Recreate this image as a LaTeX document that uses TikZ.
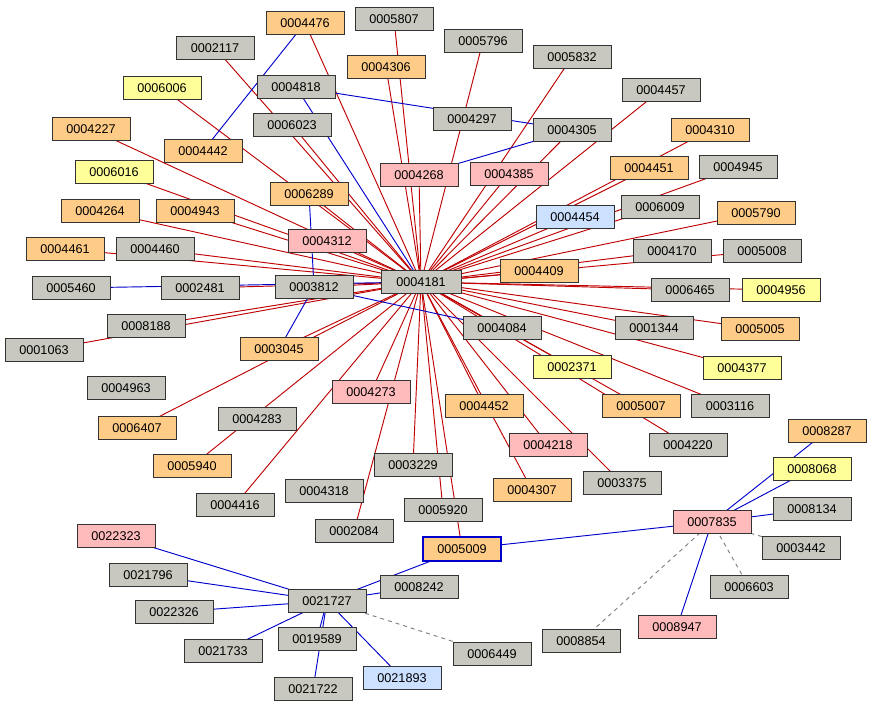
\documentclass[tikz,border=0pt]{standalone}
\usepackage{fontspec}
\setmainfont{Liberation Sans}
\usetikzlibrary{arrows.meta}
\definecolor{cg}{HTML}{C8C8C0}
\definecolor{co}{HTML}{FFCC88}
\definecolor{cp}{HTML}{FFBBBB}
\definecolor{cy}{HTML}{FFFF99}
\definecolor{cb}{HTML}{CCE0FF}
\definecolor{cr}{HTML}{C00000}
\definecolor{cbl}{HTML}{0000CC}
\tikzset{
 nd/.style={draw=black!80,line width=0.7pt,minimum width=58.5pt,minimum height=17.5pt,inner sep=1pt,font=\fontsize{9.5}{11}\selectfont},
 sg/.style={nd,fill=cg}, so/.style={nd,fill=co}, sp/.style={nd,fill=cp}, sy/.style={nd,fill=cy}, sb/.style={nd,fill=cb},
 re/.style={draw=cr,line width=0.7pt,-{Stealth[length=9pt,width=5pt]}},
 be/.style={draw=cbl,line width=0.7pt},
 de/.style={draw=gray,line width=0.7pt,dashed},
}
\begin{document}
\begin{tikzpicture}[x=0.75pt,y=-0.75pt]
\useasboundingbox[fill=white] (0,0) rectangle (873,709);
\def\nodelist{
0004476/so/305/23, 0005807/sg/394/19, 0002117/sg/215/48, 0005796/sg/483/41, 0005832/sg/572/57,
0004306/so/386/67, 0006006/sy/162/88, 0004818/sg/296/87, 0004457/sg/661/90, 0004297/sg/472/119,
0006023/sg/292/125, 0004305/sg/572/130, 0004227/so/91/129, 0004442/so/203/151, 0004310/so/710/130,
0006016/sy/114/172, 0004268/sp/419/175, 0004385/sp/509/174, 0004451/so/649/168, 0004945/sg/738/167,
0006289/so/309/194, 0004264/so/100/211, 0004943/so/195/211, 0006009/sg/660/207, 0005790/so/756/213,
0004454/sb/575/217, 0004312/sp/327/241, 0004461/so/65/249, 0004460/sg/155/249, 0004170/sg/672/251,
0005008/sg/762/251, 0004409/so/539/271, 0005460/sg/71/288, 0002481/sg/200/288,
0003812/sg/314/287, 0006465/sg/690/290, 0004956/sy/781/290, 0008188/sg/146/326, 0004084/sg/502/328,
0001344/sg/654/328, 0005005/so/760/329, 0001063/sg/44/350, 0003045/so/279/349, 0002371/sy/572/367,
0004377/sy/742/368, 0004963/sg/126/388, 0004273/sp/371/392, 0004452/so/484/406, 0005007/so/641/406,
0003116/sg/730/406, 0006407/so/137/428, 0004283/sg/257/419, 0004218/sp/548/445, 0004220/sg/688/445,
0008287/so/827/431, 0005940/so/192/466, 0003229/sg/413/465, 0008068/sy/812/469, 0004318/sg/324/491,
0003375/sg/622/483, 0004307/so/532/490, 0004416/sg/235/505, 0005920/sg/443/510, 0008134/sg/812/509,
0007835/sp/712/522, 0002084/sg/354/531, 0022323/sp/116/536, 0003442/sg/801/548,
0021796/sg/148/575, 0008242/sg/419/587, 0006603/sg/749/587, 0022326/sg/174/612, 0021727/sg/327/601,
0019589/sg/317/639, 0008854/sg/581/641, 0008947/sp/677/627, 0021733/sg/223/651, 0006449/sg/492/654,
0021893/sb/402/678, 0021722/sg/313/689, 0004181/sg/421/282, 0005009/so/462/549}
\foreach \n/\s/\px/\py in \nodelist {\coordinate (c\n) at (\px,\py);}
% edges
\foreach \n in {0004476,0005807,0002117,0005796,0005832,0004306,0004457,0006023,0004305,0004227,
 0004310,0006016,0004268,0004385,0004451,0004945,0006289,0004264,0004943,0006009,0005790,0004454,
 0004312,0004461,0004460,0004170,0005008,0004409,0006465,0004956,0008188,0004084,0001344,0005005,
 0001063,0003045,0002371,0004377,0004273,0004452,0005007,0003116,0006407,0004218,0004220,0005940,
 0003229,0003375,0004307,0004416,0005920,0002084,0006006,0002481,0003812,0005009}
 {\draw[re] (c\n) -- (c0004181);}
\foreach \a/\bb in {0004476/0004442,0004818/0004305,0004818/0004181,0004305/0004268,0006289/0003812,
 0003812/0003045,0005460/0004181,0003812/0004084,0005009/0007835,0005009/0021727,0007835/0008287,
 0007835/0008068,0007835/0008134,0007835/0008947,0021727/0022323,0021727/0021796,0021727/0022326,
 0021727/0021733,0021727/0019589,0021727/0021722,0021727/0021893,0021727/0008242}
 {\draw[be] (c\a) -- (c\bb);}
\foreach \a/\bb in {0007835/0003442,0007835/0006603,0007835/0008854,0021727/0006449}
 {\draw[de] (c\a) -- (c\bb);}
% nodes
\foreach \n/\s/\px/\py in \nodelist {\node[\s] (n\n) at (c\n) {\n};}
\node[sg,minimum width=60pt] at (c0004181) {0004181};
\node[so,draw=cbl,line width=1.6pt] at (c0005009) {0005009};
\end{tikzpicture}
\end{document}
